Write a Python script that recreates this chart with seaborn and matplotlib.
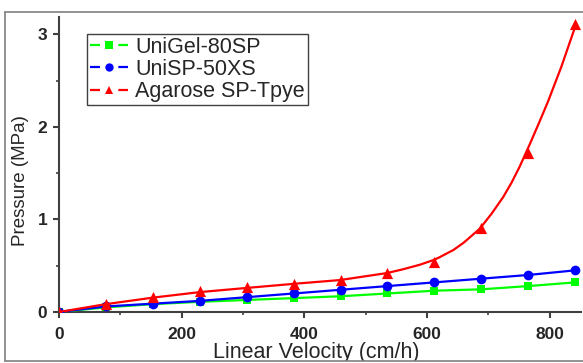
import matplotlib
matplotlib.use('Agg')
import matplotlib.pyplot as plt
import seaborn as sns
import pandas as pd
from matplotlib.lines import Line2D
from matplotlib.patches import Rectangle
from matplotlib.ticker import MultipleLocator

# data
velocity = [0, 76.5, 153, 229.5, 306, 382.5, 459, 535.5, 612, 688.5, 765, 841.5]
unigel = [0, 0.05, 0.085, 0.11, 0.13, 0.15, 0.17, 0.20, 0.23, 0.245, 0.28, 0.32]
unisp = [0, 0.06, 0.09, 0.12, 0.16, 0.20, 0.24, 0.28, 0.32, 0.36, 0.40, 0.45]
agarose = [0, 0.085, 0.16, 0.23, 0.27, 0.30, 0.35, 0.42, 0.54, 0.91, 1.72, 3.11]

# fitted curve for the agarose series
fit_x = [0, 76.5, 153, 229.5, 306, 393, 458, 534, 560, 588, 610, 620, 643, 660, 686,
         705, 724, 738, 751, 768, 783, 797, 808, 819, 831, 843]
fit_y = [0, 0.085, 0.155, 0.215, 0.26, 0.31, 0.345, 0.42, 0.46, 0.51, 0.56, 0.59, 0.67, 0.75, 0.90,
         1.06, 1.24, 1.40, 1.57, 1.82, 2.05, 2.27, 2.46, 2.65, 2.88, 3.11]

labels = ['UniGel-80SP', 'UniSP-50XS', 'Agarose SP-Tpye']
colors = ['#00ff00', '#0000ff', '#ff0000']
markers = ['s', 'o', '^']

sns.set_style('ticks')
plt.rcParams['font.family'] = ['Liberation Sans', 'DejaVu Sans']
plt.rcParams['lines.scale_dashes'] = False
plt.rcParams['lines.solid_joinstyle'] = 'round'

fig = plt.figure(figsize=(5.83, 3.63), dpi=100)
ax = fig.add_axes([59 / 583, 51 / 363, 522 / 583, 295.3 / 363])

df = pd.DataFrame({'v': velocity, 'g': unigel, 'b': unisp, 'r': agarose})
fit = pd.DataFrame({'v': fit_x, 'p': fit_y})

sns.lineplot(data=df, x='v', y='g', color=colors[0], lw=1.6, marker='s',
             markersize=6, markeredgewidth=0, ax=ax, zorder=3)
sns.lineplot(data=df, x='v', y='b', color=colors[1], lw=1.6, marker='o',
             markersize=7, markeredgewidth=0, ax=ax, zorder=4)
sns.lineplot(data=fit, x='v', y='p', color=colors[2], lw=1.6, ax=ax, zorder=5)
sns.scatterplot(data=df, x='v', y='r', color=colors[2], marker='^', s=65,
                linewidth=0, ax=ax, zorder=6)

ax.set_xlim(0, 851)
ax.set_ylim(0, 3.19)
ax.xaxis.set_major_locator(MultipleLocator(200))
ax.xaxis.set_minor_locator(MultipleLocator(100))
ax.yaxis.set_major_locator(MultipleLocator(1))
ax.yaxis.set_minor_locator(MultipleLocator(0.5))

spine_col = '#404040'
for s in ['top', 'right']:
    ax.spines[s].set_visible(False)
for s in ['left', 'bottom']:
    ax.spines[s].set_linewidth(1.5)
    ax.spines[s].set_color(spine_col)
ax.tick_params(which='major', length=4.5, width=1.5, color=spine_col,
               labelsize=12.5, pad=4)
ax.tick_params(axis='x', which='major', pad=6)
ax.tick_params(which='minor', length=2.5, width=1.2, color=spine_col)
for t in ax.get_xticklabels() + ax.get_yticklabels():
    t.set_fontweight('bold')

ax.set_xlabel('Linear Velocity (cm/h)', fontsize=15.5)
ax.set_ylabel('Pressure (MPa)', fontsize=13.5)
ax.xaxis.set_label_coords(0.492, -0.157)
ax.xaxis.label.set_va('baseline')
ax.yaxis.set_label_coords(-0.073, 0.444)
ax.yaxis.label.set_va('center')

handles = [Line2D([], [], color=c, lw=1.6, marker=m, markersize=6,
                  markeredgewidth=0, dashes=(7.2, 13.2))
           for c, m in zip(colors, markers)]
leg = ax.legend(handles, labels, loc='upper left', bbox_to_anchor=(28 / 522, 1 - 17 / 295.3),
                fontsize=15.5, frameon=True, fancybox=False, framealpha=1,
                edgecolor='#404040', handlelength=1.75, handletextpad=0.35,
                labelspacing=0.05, borderpad=0.15, borderaxespad=0)
leg.get_frame().set_linewidth(1.0)

# screenshot frame around the picture
fig.add_artist(Rectangle((0, 0), 1, 2 / 363, transform=fig.transFigure,
                         facecolor='white', edgecolor='none', zorder=20))
fig.add_artist(Line2D([5 / 583, 1], [2 / 363, 2 / 363], transform=fig.transFigure,
                      color='#808080', lw=1.2, zorder=21))
fig.add_artist(Line2D([5 / 583, 1], [351 / 363, 351 / 363], transform=fig.transFigure,
                      color='#808080', lw=1.2, zorder=21))
fig.add_artist(Line2D([5 / 583, 5 / 583], [2 / 363, 351 / 363], transform=fig.transFigure,
                      color='#808080', lw=1.2, zorder=21))

fig.savefig('out.png', dpi=100)
